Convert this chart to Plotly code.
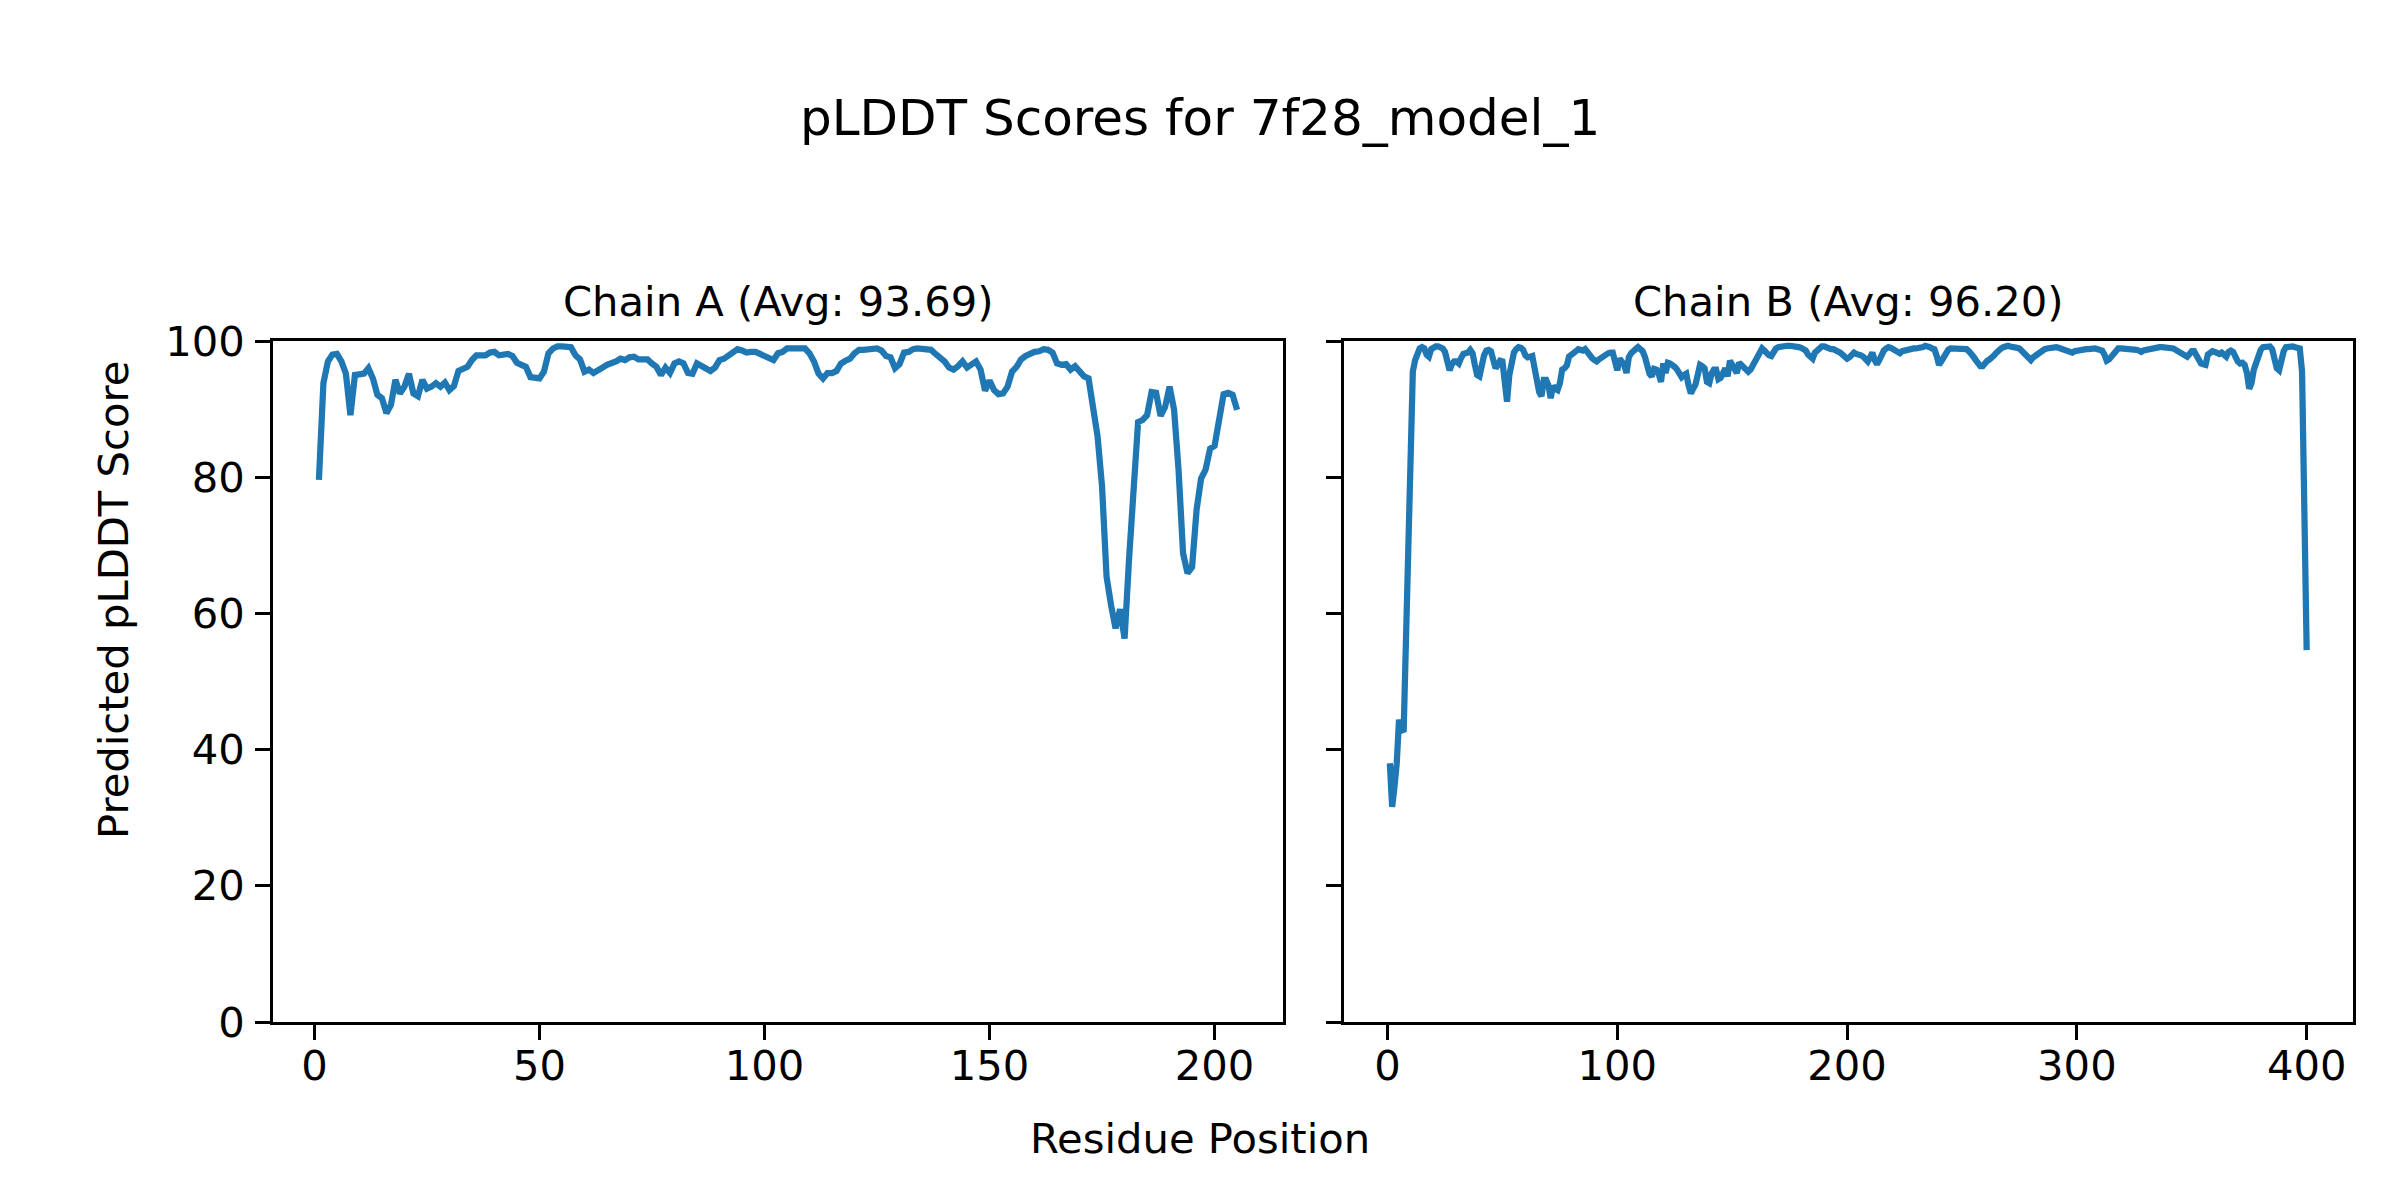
import plotly.graph_objects as go

# ---------------- data ----------------
chain_a_plddt = [
    79.6, 93.8, 97.0, 98.0, 98.1, 97.0, 95.2, 89.1, 95.0, 95.0,
    95.2, 96.0, 94.5, 92.1, 91.6, 89.4, 90.6, 94.3, 92.3, 93.3,
    95.2, 92.3, 91.9, 94.3, 93.0, 93.3, 93.8, 93.3, 93.9, 92.8,
    93.4, 95.6, 95.8, 96.2, 97.2, 97.9, 97.9, 97.9, 98.3, 98.4,
    97.9, 98.1, 98.1, 97.8, 96.8, 96.5, 96.2, 94.7, 94.5, 94.5,
    95.5, 98.2, 98.9, 99.2, 99.2, 99.1, 99.1, 97.9, 97.3, 95.5,
    95.8, 95.3, 95.6, 96.1, 96.5, 96.7, 97.0, 97.4, 97.2, 97.6,
    97.7, 97.3, 97.3, 97.3, 96.7, 96.2, 95.0, 96.1, 95.3, 96.7,
    97.0, 96.7, 95.3, 95.2, 96.7, 96.3, 96.0, 95.6, 96.1, 97.2,
    97.4, 97.8, 98.4, 98.8, 98.6, 98.3, 98.4, 98.4, 98.1, 97.8,
    97.4, 97.2, 98.2, 98.4, 98.9, 98.9, 98.9, 98.9, 98.9, 98.2,
    97.0, 95.2, 94.5, 95.3, 95.3, 95.6, 96.7, 97.1, 97.4, 98.2,
    98.7, 98.7, 98.7, 98.8, 98.9, 98.6, 97.8, 97.6, 96.0, 96.6,
    98.3, 98.4, 98.8, 98.9, 98.9, 98.8, 98.7, 98.1, 97.6, 97.0,
    96.1, 95.8, 96.3, 97.0, 96.1, 96.6, 97.0, 95.8, 92.7, 94.2,
    92.8, 92.2, 92.3, 93.3, 95.5, 96.2, 97.3, 97.8, 98.2, 98.4,
    98.5, 98.8, 98.7, 98.3, 96.7, 96.5, 96.6, 95.8, 96.3, 95.5,
    94.8, 94.5, 90.6, 86.0, 78.6, 65.4, 61.2, 57.8, 60.6, 56.3,
    68.0, 80.0, 88.1, 88.4, 89.1, 92.5, 92.4, 89.0, 90.3, 93.3,
    89.9, 81.0, 68.8, 65.9, 66.8, 75.2, 79.8, 81.1, 84.2, 84.6,
    88.4, 92.2, 92.4, 92.1, 89.9,
]

chain_b_plddt = [
    38.0, 31.6, 34.5, 38.0, 44.4, 43.0, 42.6, 57.0, 74.0, 88.0,
    95.5, 97.2, 98.4, 98.9, 99.1, 98.9, 98.0, 97.7, 98.8, 99.1,
    99.2, 99.2, 99.1, 98.9, 98.4, 97.0, 95.7, 96.6, 97.0, 97.0,
    96.7, 97.5, 98.1, 98.2, 98.3, 98.7, 98.2, 96.5, 95.0, 94.8,
    96.5, 97.9, 98.6, 98.7, 98.5, 97.2, 96.0, 96.5, 97.1, 97.0,
    94.0, 91.1, 95.0, 97.5, 98.3, 98.8, 99.1, 99.0, 98.7, 97.9,
    97.6, 97.7, 97.8, 96.0, 93.8, 92.5, 91.9, 94.3, 94.3, 93.5,
    91.6, 93.4, 93.0, 92.8, 93.8, 95.8, 96.0, 96.4, 97.7, 97.9,
    98.1, 98.5, 98.8, 98.6, 98.6, 98.8, 98.3, 97.7, 97.5, 97.2,
    97.0, 97.3, 97.6, 97.8, 98.1, 98.2, 98.3, 98.3, 97.0, 95.7,
    97.4, 97.1, 96.5, 95.3, 97.6, 98.2, 98.4, 98.8, 99.1, 98.9,
    98.5, 97.7, 96.0, 95.2, 94.8, 95.9, 95.8, 95.2, 94.0, 96.7,
    95.3, 96.8, 96.7, 96.5, 96.2, 95.8, 95.2, 94.7, 95.0, 95.2,
    93.5, 92.3, 93.0, 93.6, 95.0, 96.5, 96.3, 96.0, 94.0, 93.8,
    95.2, 95.8, 95.8, 94.4, 94.6, 95.6, 96.0, 94.8, 97.1, 96.5,
    96.0, 95.3, 96.8, 96.5, 96.3, 96.0, 95.5, 95.8, 96.5, 97.0,
    97.6, 98.3, 98.9, 98.6, 98.2, 97.9, 97.8, 98.6, 98.9, 99.1,
    99.2, 99.2, 99.2, 99.3, 99.3, 99.3, 99.3, 99.2, 99.1, 99.0,
    98.9, 98.6, 98.0, 97.8, 97.4, 98.3, 98.7, 99.0, 99.2, 99.2,
    99.0, 98.9, 98.8, 98.8, 98.7, 98.6, 98.3, 98.0, 97.7, 97.4,
    97.6, 98.0, 98.3, 98.1, 98.1, 97.9, 97.7, 97.2, 97.0, 97.6,
    98.3, 97.2, 96.6, 97.2, 98.0, 98.6, 98.9, 99.1, 99.0, 98.8,
    98.6, 98.2, 98.2, 98.5, 98.6, 98.7, 98.9, 98.9, 98.9, 98.9,
    98.9, 99.0, 99.1, 99.3, 99.3, 99.1, 98.9, 98.8, 97.8, 96.5,
    97.0, 97.6, 98.4, 98.7, 98.9, 98.9, 98.9, 98.9, 98.9, 98.9,
    98.9, 98.8, 98.5, 98.2, 97.7, 97.2, 96.8, 96.3, 96.3, 96.9,
    97.1, 97.3, 97.5, 97.9, 98.3, 98.7, 98.9, 99.1, 99.3, 99.3,
    99.2, 99.2, 99.1, 99.0, 98.9, 98.6, 98.1, 97.8, 97.5, 97.2,
    97.6, 97.9, 98.1, 98.3, 98.6, 98.8, 98.9, 99.0, 99.1, 99.2,
    99.1, 99.0, 98.9, 98.8, 98.7, 98.6, 98.4, 98.3, 98.5, 98.6,
    98.7, 98.7, 98.8, 98.8, 98.8, 98.9, 98.9, 98.9, 98.8, 98.7,
    98.6, 98.0, 97.1, 97.3, 97.8, 98.1, 98.6, 98.9, 98.9, 98.9,
    98.9, 98.9, 98.8, 98.8, 98.8, 98.7, 98.6, 98.4, 98.6, 98.7,
    98.8, 98.9, 99.0, 99.0, 99.1, 99.1, 99.1, 99.1, 99.1, 99.1,
    99.0, 98.9, 98.7, 98.5, 98.2, 98.0, 97.8, 97.7, 98.1, 98.5,
    98.5, 97.8, 97.2, 96.7, 96.6, 96.5, 98.0, 98.4, 98.5, 98.4,
    98.2, 98.1, 98.3, 98.0, 97.7, 98.4, 98.6, 98.4, 97.6, 97.0,
    96.7, 96.8, 96.5, 95.3, 93.0, 93.8, 95.8, 97.0, 98.1, 98.7,
    99.1, 99.2, 99.2, 99.2, 98.8, 97.5, 96.0, 95.7, 97.4, 98.5,
    99.1, 99.2, 99.2, 99.2, 99.1, 99.0, 98.9, 95.5, 75.0, 54.6,
]

chain_a_residues = list(range(1, len(chain_a_plddt) + 1))
chain_b_residues = list(range(1, len(chain_b_plddt) + 1))

title_text = "pLDDT Scores for 7f28_model_1"
subplot_titles = ["Chain A (Avg: 93.69)", "Chain B (Avg: 96.20)"]
x_label = "Residue Position"
y_label = "Predicted pLDDT Score"
a_xticks = [0, 50, 100, 150, 200]
b_xticks = [0, 100, 200, 300, 400]
y_ticks = [0, 20, 40, 60, 80, 100]

# ---------------- figure ----------------
W, H = 2400, 1200
LINE_COLOR = "#1f77b4"
FONT = "DejaVu Sans"
TICK_FS = 41.7
SPINE_W = 3.33
TICK_LEN = 14.6

fig = go.Figure()
fig.add_trace(go.Scatter(x=chain_a_residues, y=chain_a_plddt, mode="lines",
                         line=dict(color=LINE_COLOR, width=6.25),
                         xaxis="x", yaxis="y", showlegend=False))
fig.add_trace(go.Scatter(x=chain_b_residues, y=chain_b_plddt, mode="lines",
                         line=dict(color=LINE_COLOR, width=6.25),
                         xaxis="x2", yaxis="y2", showlegend=False))

def px_x(p):
    return p / W

def px_y(p):
    return 1 - p / H

y_dom = [px_y(1022), px_y(341)]
a_dom = [px_x(273), px_x(1283)]
b_dom = [px_x(1344), px_x(2352.5)]

common_axis = dict(
    showline=True, linewidth=SPINE_W, linecolor="black", mirror=True,
    ticks="outside", ticklen=TICK_LEN, tickwidth=SPINE_W, tickcolor="black",
    showgrid=False, zeroline=False, automargin=False,
    tickfont=dict(family=FONT, size=TICK_FS, color="black"),
)

n_a = len(chain_a_plddt)
n_b = len(chain_b_plddt)
pad_a = 0.05 * (n_a - 1)
pad_b = 0.05 * (n_b - 1)

fig.update_layout(
    width=W, height=H,
    margin=dict(l=0, r=0, t=0, b=0, pad=0, autoexpand=False),
    paper_bgcolor="white", plot_bgcolor="white",
    font=dict(family=FONT, color="black"),
    xaxis=dict(domain=a_dom, range=[1 - pad_a, n_a + pad_a], anchor="y",
               tickvals=a_xticks, ticklabelstandoff=-10, **common_axis),
    yaxis=dict(domain=y_dom, range=[0, 100], anchor="x",
               tickvals=y_ticks, ticklabelstandoff=2, **common_axis),
    xaxis2=dict(domain=b_dom, range=[1 - pad_b, n_b + pad_b], anchor="y2",
                tickvals=b_xticks, ticklabelstandoff=-10, **common_axis),
    yaxis2=dict(domain=y_dom, range=[0, 100], anchor="x2",
                tickvals=y_ticks, showticklabels=False, **common_axis),
    annotations=[
        dict(text=title_text, x=0.5, y=px_y(118), xref="paper", yref="paper",
             xanchor="center", yanchor="middle", showarrow=False,
             font=dict(family=FONT, size=50, color="black")),
        dict(text=subplot_titles[0], x=px_x(778), y=px_y(301), xref="paper", yref="paper",
             xanchor="center", yanchor="middle", showarrow=False,
             font=dict(family=FONT, size=TICK_FS, color="black")),
        dict(text=subplot_titles[1], x=px_x(1848), y=px_y(301), xref="paper", yref="paper",
             xanchor="center", yanchor="middle", showarrow=False,
             font=dict(family=FONT, size=TICK_FS, color="black")),
        dict(text=x_label, x=0.5, y=px_y(1138), xref="paper", yref="paper",
             xanchor="center", yanchor="middle", showarrow=False,
             font=dict(family=FONT, size=TICK_FS, color="black")),
        dict(text=y_label, x=px_x(113), y=0.5, xref="paper", yref="paper",
             xanchor="center", yanchor="middle", showarrow=False, textangle=-90,
             font=dict(family=FONT, size=TICK_FS, color="black")),
    ],
)

fig.write_html("out.html", config={"displayModeBar": False},
               post_script="document.body.style.margin='0px';document.body.style.overflow='hidden';")
